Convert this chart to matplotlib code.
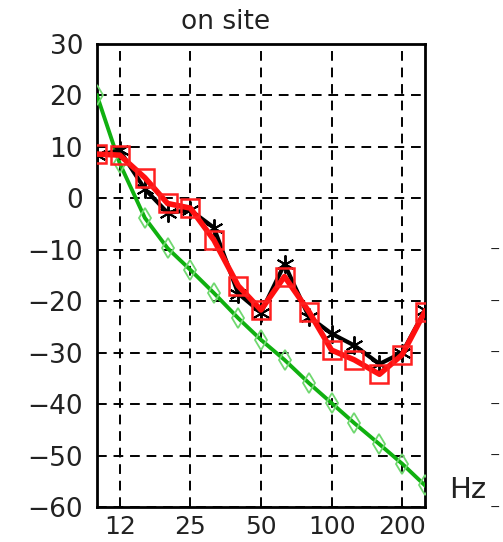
import numpy as np
import matplotlib
matplotlib.use("Agg")
import matplotlib.pyplot as plt

# ── Data (1/3-octave bands) ──────────────────────────────────────────────────
freqs = [10, 12.5, 16, 20, 25, 31.5, 40, 50, 63, 80, 100, 125, 160, 200, 250]
black = [8.4, 9.3, 1.8, -2.8, -2.3, -5.7, -18.5, -22.2, -12.8, -23.0, -26.3, -28.6, -32.2, -30.0, -21.8]
red   = [8.6, 8.4, 4.0, -1.0, -1.9, -8.1, -17.0, -21.7, -15.2, -22.0, -29.5, -31.4, -34.2, -30.4, -22.0]
green = [20.0, 6.8, -3.8, -9.7, -13.9, -18.4, -23.3, -27.5, -31.4, -35.9, -39.8, -43.7, -47.8, -51.6, -55.8]

xticks      = [12.5, 25, 50, 100, 200]
xticklabels = ["12", "25", "50", "100", "200"]
yticks      = list(range(-60, 31, 10))

# ── Figure ────────────────────────────────────────────────────────────────────
fig = plt.figure(figsize=(5.03, 5.42), dpi=100)
ax = fig.add_axes([0.1928, 0.0646, 0.652, 0.8542])

ax.plot(freqs, green, color="#10b010", linewidth=2.8, marker="d", markersize=10,
        markerfacecolor="none", markeredgecolor="#70d870", markeredgewidth=1.3, zorder=3)
ax.plot(freqs, black, color="black", linewidth=3, marker=(6, 2, 0), markersize=13,
        markeredgewidth=1.4, zorder=4)
ax.plot(freqs, red, color="#ff1010", linewidth=4, marker="s", markersize=13,
        markerfacecolor="none", markeredgecolor="#ff2020", markeredgewidth=1.8, zorder=5)

ax.set_xscale("log")
ax.set_xlim(10, 250)
ax.set_ylim(-60, 30)
ax.set_xticks(xticks)
ax.set_xticklabels(xticklabels)
ax.xaxis.set_minor_locator(matplotlib.ticker.NullLocator())
ax.set_yticks(yticks)
ax.set_yticklabels([str(v).replace("-", "\u2212") for v in yticks])
ax.tick_params(length=0, labelsize=19, pad=10, colors="#222222")
ax.tick_params(axis="x", labelsize=18, pad=6)
ax.grid(True, color="black", linestyle=(0, (5, 3.5)), linewidth=1.4)
ax.set_axisbelow(True)
for sp in ax.spines.values():
    sp.set_linewidth(2)

fig.text(226 / 503, 1 - 22 / 542, "on site", ha="center", va="center", fontsize=19, color="#222222")
fig.text(468 / 503, 1 - 490 / 542, "Hz", ha="center", va="center", fontsize=21, color="#222222")

# minus signs of the neighbouring panel, at the right edge
for v in yticks[:6]:
    py = 44 + (30 - v) * 463 / 90
    fig.text(495 / 503, 1 - py / 542, "\u2212", ha="center", va="center", fontsize=9, color="#222222")

fig.savefig("out.png", dpi=100)
